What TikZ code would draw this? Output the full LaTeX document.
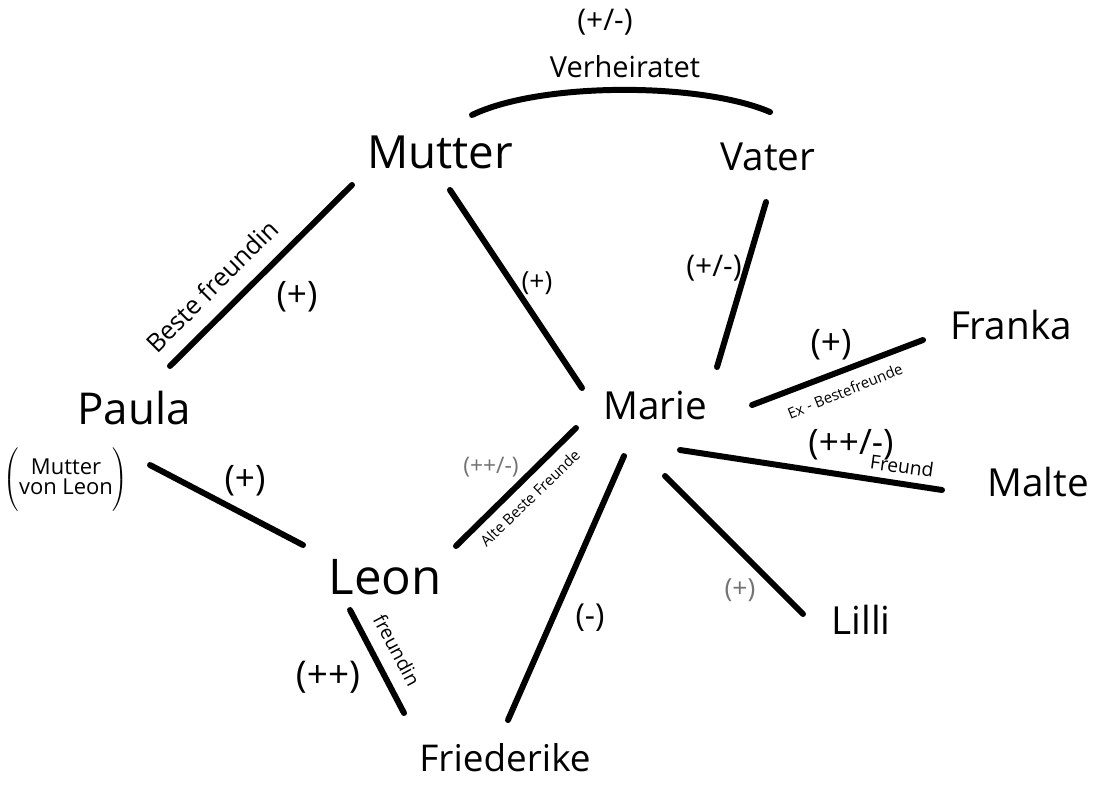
\documentclass[tikz,border=0pt]{standalone}
\usepackage{fontspec}
\setmainfont{Open Sans}
\usetikzlibrary{calc}
\begin{document}
\begin{tikzpicture}[x=0.02cm,y=-0.02cm,
  person/.style={font=\fontsize{22}{26}\selectfont, inner sep=0pt},
  link/.style={line width=3.4pt, line cap=round},
  rel/.style={font=\fontsize{20}{24}\selectfont, inner sep=0pt},
  relsmall/.style={font=\fontsize{13}{15}\selectfont, inner sep=0pt, text=black!55},
  tag/.style={font=\fontsize{11}{13}\selectfont, inner sep=0pt},
  tagtiny/.style={font=\fontsize{8.5}{10}\selectfont, inner sep=0pt}]
\useasboundingbox[fill=white] (0,0) rectangle (1094,785);

% people
\node[person, font=\fontsize{26}{30}\selectfont] (Mutter) at (440,152) {Mutter};
\node[person] (Vater) at (768,157) {Vater};
\node[person, font=\fontsize{25}{29}\selectfont] (Paula) at (134,408) {Paula};
\node[person] (Marie) at (655,405) {Marie};
\node[person] (Franka) at (1011,325) {Franka};
\node[person] (Malte) at (1038,482) {Malte};
\node[person, font=\fontsize{28}{32}\selectfont] (Leon) at (385,577) {Leon};
\node[person] (Lilli) at (861,620) {Lilli};
\node[person, font=\fontsize{21}{25}\selectfont] (Friederike) at (505,758) {Friederike};
\node[inner sep=0pt] (MvL) at (66,481)
  {$\left(\vrule height 18pt depth 17pt width 0pt
    \begin{tabular}{@{}c@{}}\fontsize{12.5}{14}\selectfont Mutter\\[-1pt]\fontsize{12.5}{14}\selectfont von Leon\end{tabular}\right)$};

% marriage arc
\draw[link] ($(Mutter)+(32,-37)$) .. controls (540,82) and (700,82) .. ($(Vater)+(2,-45)$);
\node[rel, font=\fontsize{17}{20}\selectfont] (mvRel) at (605,22) {(+/-)};
\node[tag, font=\fontsize{16.5}{19}\selectfont] (mvTag) at (625,67) {Verheiratet};

% connectors
\draw[link] ($(Mutter)+(-88,33)$) -- ($(Paula)+(36,-42)$);
\draw[link] ($(Mutter)+(10,38)$) -- ($(Marie)+(-73,-17)$);
\draw[link] ($(Vater)+(-2,45)$) -- ($(Marie)+(62,-38)$);
\draw[link] ($(Marie)+(97,0)$) -- ($(Franka)+(-88,15)$);
\draw[link] ($(Marie)+(25,45)$) -- ($(Malte)+(-96,8)$);
\draw[link] ($(Marie)+(10,71)$) -- ($(Lilli)+(-58,-6)$);
\draw[link] ($(Marie)+(-31,51)$) -- ($(Friederike)+(3,-38)$);
\draw[link] ($(Marie)+(-79,23)$) -- ($(Leon)+(71,-31)$);
\draw[link] ($(Paula)+(16,57)$) -- ($(Leon)+(-82,-32)$);
\draw[link] ($(Leon)+(-35,33)$) -- ($(Friederike)+(-101,-45)$);

% relation labels
\node[tag, rotate=45, font=\fontsize{14.5}{17}\selectfont] (bf) at (212,286) {Beste freundin};
\node[rel] (mpRel) at (297,297) {(+)};
\node[rel, font=\fontsize{15}{18}\selectfont] (mmRel) at (537,283) {(+)};
\node[rel, font=\fontsize{17}{20}\selectfont] (vmRel) at (714,268) {(+/-)};
\node[rel] (mfRel) at (831,345) {(+)};
\node[tagtiny, rotate=22] (exbf) at (845,391) {Ex - Bestefreunde};
\node[rel] (mmaRel) at (851,445) {(++/-)};
\node[tag, rotate=-8] (fr) at (902,466) {Freund};
\node[relsmall] (mlRel) at (491,467) {(++/-)};
\node[tagtiny, rotate=44, font=\fontsize{8.5}{10}\selectfont] (abf) at (530,498) {Alte Beste Freunde};
\node[rel] (plRel) at (245,481) {(+)};
\node[rel, font=\fontsize{18}{21}\selectfont] (mfrRel) at (590,618) {(-)};
\node[relsmall, font=\fontsize{15}{18}\selectfont] (mliRel) at (740,590) {(+)};
\node[rel, font=\fontsize{21}{25}\selectfont] (lfRel) at (328,677) {(++)};
\node[tag, rotate=-62, font=\fontsize{11}{13}\selectfont] (lfTag) at (397,650) {freundin};
\end{tikzpicture}
\end{document}
